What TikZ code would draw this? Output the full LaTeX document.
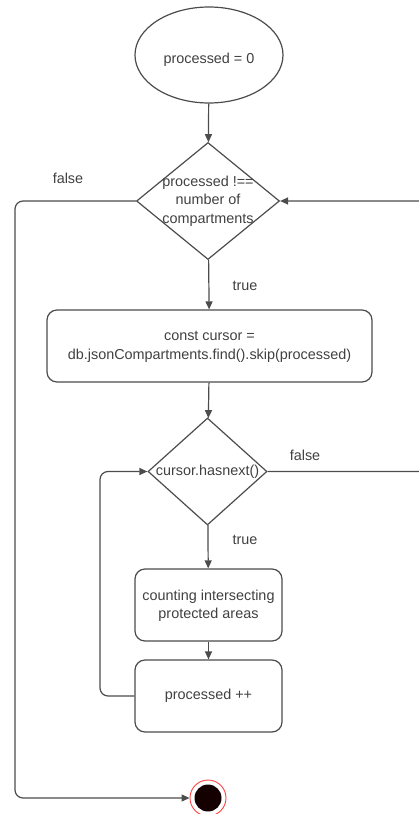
\documentclass[tikz,border=0pt]{standalone}
\usepackage{fontspec}
\setmainfont{Liberation Sans}
\usetikzlibrary{shapes.geometric,arrows.meta}
\begin{document}
\begin{tikzpicture}[x=1pt,y=-1pt,
  line/.style={draw=black!70,line width=1.2pt},
  arr/.style={line,-{Triangle[length=8pt,width=7pt]}},
  txt/.style={text=black!75,font=\fontsize{14.4}{18.5}\selectfont,align=center,inner sep=0pt},
  rbox/.style={line,rounded corners=10pt,minimum height=72pt,inner sep=0pt},
  dia/.style={line,diamond,inner sep=0pt},
  lbl/.style={text=black!75,font=\fontsize{14.4}{17}\selectfont,inner sep=0pt}]
\useasboundingbox (0,0) rectangle (418,814);
\node[line,ellipse,minimum width=148pt,minimum height=96pt,inner sep=0pt] (start) at (209,55) {};
\node[txt] (startt) at (209,60) {processed = 0};
\node[dia,minimum width=143pt,minimum height=117pt] (d1) at (208,201) {};
\node[txt] (d1t) at (208,201) {processed !==\\number of\\compartments};
\node[rbox,minimum width=325pt] (b1) at (209.5,346) {};
\node[txt] (b1t) at (209.5,347) {const cursor =\\db.jsonCompartments.find().skip(processed)};
\node[dia,minimum width=119pt,minimum height=107pt] (d2) at (207.5,471.5) {};
\node[txt] (d2t) at (207.5,472) {cursor.hasnext()};
\node[rbox,minimum width=147pt] (b2) at (208.5,605) {};
\node[txt,font=\fontsize{14.4}{17.5}\selectfont] (b2t) at (208.5,606) {counting intersecting\\protected areas};
\node[rbox,minimum width=147pt] (b3) at (208.5,696) {};
\node[txt] (b3t) at (208.5,696) {processed ++};
\node[circle,draw=red!75,line width=0.9pt,minimum size=36pt,inner sep=0pt] (end) at (208,798) {};
\node[circle,fill=black!92!red,minimum size=27pt,inner sep=0pt] (endin) at (end) {};
\node[lbl] (lf1) at (68,178) {false};
\node[lbl] (lt1) at (245,286) {true};
\node[lbl] (lf2) at (305,455) {false};
\node[lbl] (lt2) at (245,540) {true};
\coordinate (fl1) at (15,201);
\coordinate (fl2) at (15,798);
\coordinate (rr1) at (428,471.5);
\coordinate (rr2) at (428,201);
\coordinate (lp1) at (100,696);
\coordinate (lp2) at (100,471.5);
\draw[arr] (start) -- (d1);
\draw[arr] (d1) -- (b1);
\draw[arr] (b1) -- (d2);
\draw[arr] (d2) -- (b2);
\draw[arr] (b2) -- (b3);
\draw[arr,rounded corners=8pt] (d1.west) -- (fl1) -- (fl2) -- (end.west);
\draw[arr,rounded corners=8pt] (d2.east) -- (rr1) -- (rr2) -- (d1.east);
\draw[arr,rounded corners=8pt] (b3.west) -- (lp1) -- (lp2) -- (d2.west);
\end{tikzpicture}
\end{document}
